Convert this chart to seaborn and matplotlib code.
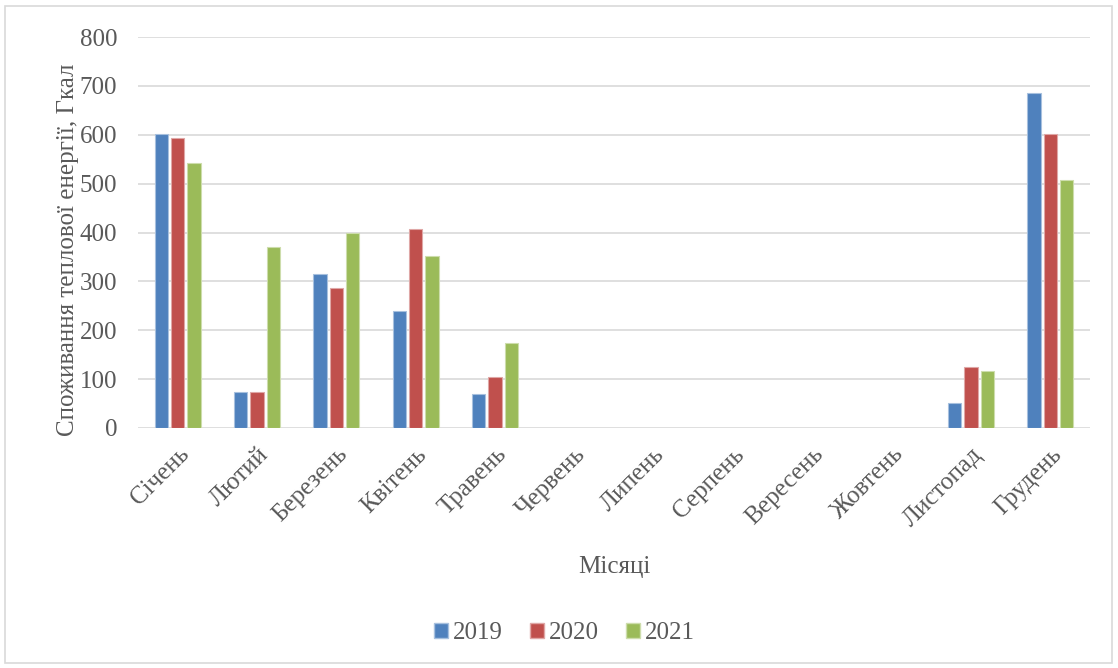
import matplotlib
matplotlib.use("Agg")
import matplotlib.pyplot as plt
import matplotlib.patches as mpatches
import pandas as pd
import seaborn as sns

months = ["Січень", "Лютий", "Березень", "Квітень", "Травень", "Червень",
          "Липень", "Серпень", "Вересень", "Жовтень", "Листопад", "Грудень"]
years = ["2019", "2020", "2021"]
v2019 = [601, 74, 316, 239, 70, 0, 0, 0, 0, 0, 51, 686]
v2020 = [594, 74, 286, 408, 105, 0, 0, 0, 0, 0, 124, 601]
v2021 = [543, 370, 400, 351, 174, 0, 0, 0, 0, 0, 116, 508]
colors = ["#4F81BD", "#C0504D", "#9BBB59"]
edge_colors = ["#A7C0DE", "#DFA7A6", "#CDDDAC"]

df = pd.DataFrame({
    "month": months * 3,
    "year": [y for y in years for _ in months],
    "value": v2019 + v2020 + v2021,
})

sns.set_theme(style="white")
plt.rcParams["font.family"] = ["Liberation Serif", "DejaVu Serif"]
text_color = "#595959"

fig = plt.figure(figsize=(11.18, 6.68), dpi=100)
ax = fig.add_axes([138 / 1118, 1 - 428 / 668, (1090 - 138) / 1118, (428 - 37) / 668])

sns.barplot(data=df, x="month", y="value", hue="year", order=months,
            hue_order=years, palette=colors, saturation=1, width=0.62, gap=0.18,
            errorbar=None, legend=False, ax=ax, zorder=3)

for i, container in enumerate(ax.containers):
    for bar in container:
        bar.set_edgecolor(edge_colors[i])
        bar.set_linewidth(0.8)
        if bar.get_height() == 0:
            bar.set_visible(False)

ax.set_ylim(0, 800)
ax.set_yticks(range(0, 801, 100))
ax.set_xlim(-0.5, 11.5)
ax.grid(axis="y", color="#D9D9D9", linewidth=1.2, zorder=0)
ax.set_axisbelow(True)
for s in ax.spines.values():
    s.set_visible(False)
ax.tick_params(axis="both", length=0, colors=text_color, labelsize=18)
ax.tick_params(axis="y", pad=15)
ax.tick_params(axis="x", pad=11)
plt.setp(ax.get_xticklabels(), rotation=45, ha="right", rotation_mode="anchor")

ax.set_xlabel("Місяці", fontsize=18, color=text_color, labelpad=18)
ax.set_ylabel("Споживання теплової енергії, Гкал", fontsize=18, color=text_color)
ax.yaxis.set_label_coords(-0.062, 0.455)

handles = [mpatches.Patch(facecolor=c, edgecolor=e, label=y)
           for c, e, y in zip(colors, edge_colors, years)]
fig.legend(handles=handles, loc="center", bbox_to_anchor=(0.505, 0.052),
           ncol=3, frameon=False, fontsize=18, handlelength=0.55,
           handleheight=0.55, handletextpad=0.2, columnspacing=1.1,
           labelcolor=text_color)

fig.patches.append(mpatches.Rectangle((5 / 1118, 5 / 668), 1107 / 1118, 657 / 668,
                                      transform=fig.transFigure, fill=False,
                                      edgecolor="#D9D9D9", linewidth=1.2))

fig.savefig("out.png", dpi=100, facecolor="white")
